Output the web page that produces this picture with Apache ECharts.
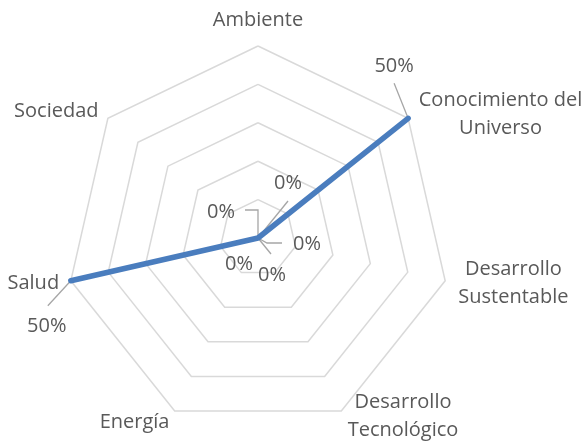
<!DOCTYPE html>
<html><head><meta charset="utf-8">
<script src="https://cdn.jsdelivr.net/npm/echarts@6/dist/echarts.min.js"></script>
<style>html,body{margin:0;padding:0;background:#fff}#c{width:587px;height:445px}</style>
</head><body><div id="c"></div>
<script>
// Data (clockwise from top, as in the picture)
const categories = ['Ambiente', 'Conocimiento del Universo', 'Desarrollo Sustentable', 'Desarrollo Tecnológico', 'Energía', 'Salud', 'Sociedad'];
const values = [0, 50, 0, 0, 0, 50, 0];
const axisMin = 0;
const axisMax = 50;
const splitCount = 5;

// Label placement (style), per category in the same order
const labelOffsets = [[30, -55], [-14, -52], [49, 6], [14, 37], [-19, 26], [-24, 46], [-37, -26]];
const leaderLines = [
  [[0, 0], [30, -37]],
  [[0, 0], [-14, -35]],
  [[0, 0], [9, 5], [24, 5]],
  [[0, 0], [13, 16]],
  null,
  [[0, 0], [-23, 25]],
  [[0, 0], [0, -28], [-13, -28]]
];
// spacer heights (px) before / after two-line axis names, to nudge them vertically
const nameSpacer = { 1: [6, 0], 3: [0, 12] };

// ECharts radar goes counter-clockwise; reorder so display is clockwise
const order = [0].concat(categories.slice(1).map((_, i) => categories.length - 1 - i));
const ordCats = order.map(i => categories[i]);
const ordVals = order.map(i => values[i]);

const FONT = 'Open Sans';
const TXT = '#595959';

const nameRich = {};
const nameKey = {};
const mc = document.createElement('canvas').getContext('2d');
mc.font = '20px "' + FONT + '"';
categories.forEach((n, i) => {
  const sp = n.lastIndexOf(' ');
  if (sp > 0) {
    const a = n.slice(0, sp), b = n.slice(sp + 1);
    const w = Math.ceil(Math.max(mc.measureText(a).width, mc.measureText(b).width)) + 2;
    nameRich['n' + i] = { width: w, align: 'center', fontSize: 20, fontFamily: FONT, color: TXT, lineHeight: 28 };
    let s = '{n' + i + '|' + a + '}\n{n' + i + '|' + b + '}';
    const sp2 = nameSpacer[i];
    if (sp2) {
      if (sp2[0]) { nameRich['t' + i] = { fontSize: 2, lineHeight: sp2[0], width: w }; s = '{t' + i + '| }\n' + s; }
      if (sp2[1]) { nameRich['u' + i] = { fontSize: 2, lineHeight: sp2[1], width: w }; s = s + '\n{u' + i + '| }'; }
    }
    nameKey[n] = s;
  }
});

const chart = echarts.init(document.getElementById('c'), null, { renderer: 'canvas' });

const series = [{
  type: 'radar',
  z: 5,
  symbol: 'none',
  lineStyle: { color: '#4a7dbe', width: 5.5 },
  itemStyle: { color: '#4a7dbe' },
  data: [{ value: ordVals, name: 'Serie 1' }],
  silent: true
}];

order.forEach((srcIdx, k) => {
  series.push({
    type: 'radar',
    z: 6,
    symbol: 'circle',
    symbolSize: 1,
    itemStyle: { color: 'rgba(0,0,0,0)' },
    lineStyle: { width: 0, opacity: 0 },
    silent: true,
    label: {
      show: true,
      position: 'inside',
      offset: labelOffsets[srcIdx],
      color: TXT,
      fontSize: 20,
      fontFamily: FONT,
      formatter: p => (typeof p.value === 'number' && p.value >= 0) ? (p.value + '%') : ''
    },
    data: [{ value: ordVals.map((v, j) => j === k ? v : -1) }]
  });
});

const option = {
  animation: false,
  backgroundColor: '#fff',
  radar: {
    center: [258, 238],
    radius: 192,
    startAngle: 90,
    splitNumber: splitCount,
    shape: 'polygon',
    nameGap: 12,
    indicator: ordCats.map(n => ({ name: n, min: axisMin, max: axisMax })),
    axisName: {
      color: TXT,
      fontSize: 20,
      fontFamily: FONT,
      lineHeight: 28,
      formatter: n => nameKey[n] || n,
      rich: nameRich
    },
    splitLine: { lineStyle: { color: '#d9d9d9', width: 1.5 } },
    splitArea: { show: false },
    axisLine: { show: false },
    axisTick: { show: false },
    axisLabel: { show: false }
  },
  series: series
};
chart.setOption(option);

// Leader lines anchored to data points through the radar coordinate system
try {
  const cs = chart.getModel().getComponent('radar').coordinateSystem;
  const gfx = [];
  order.forEach((srcIdx, k) => {
    const L = leaderLines[srcIdx];
    if (!L) return;
    const p = cs.dataToPoint(ordVals[k], k);
    gfx.push({
      type: 'polyline',
      z: 3,
      silent: true,
      shape: { points: L.map(o => [p[0] + o[0], p[1] + o[1]]) },
      style: { stroke: '#a6a6a6', lineWidth: 1.3, fill: null }
    });
  });
  chart.setOption({ graphic: gfx });
} catch (e) { console.error(e); }
</script>
</body></html>
